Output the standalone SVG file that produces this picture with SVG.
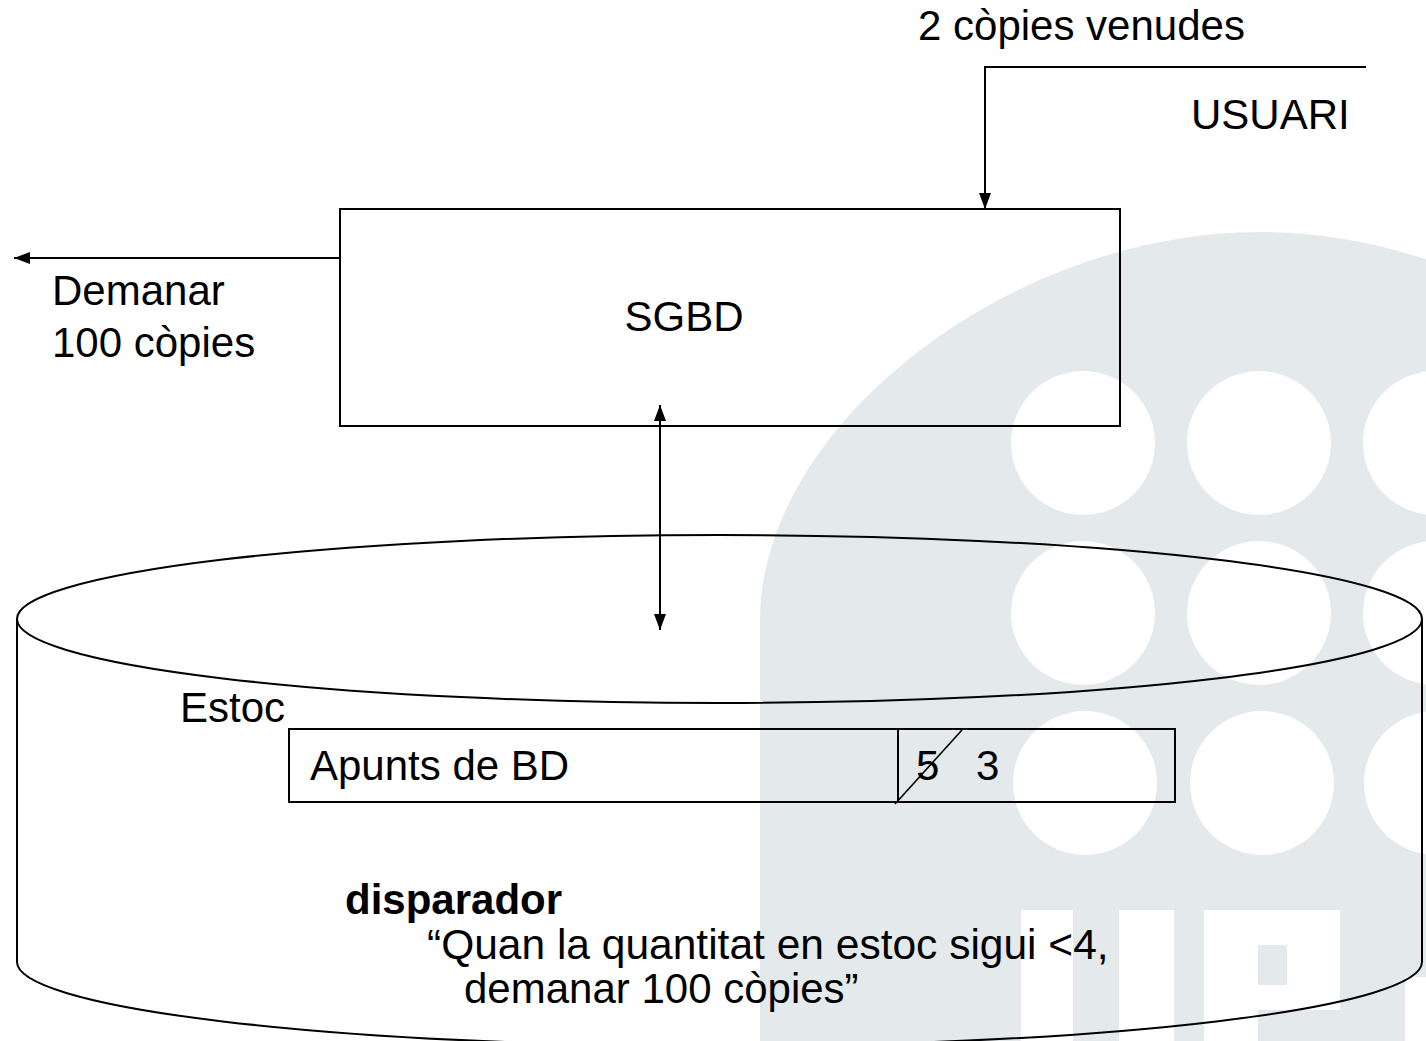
<svg xmlns="http://www.w3.org/2000/svg" width="1426" height="1041" viewBox="0 0 1426 1041">
  <style>
    .t { font-family: "Liberation Sans", Arial, sans-serif; font-size: 42px; fill: #000; }
    .b { font-weight: bold; }
    .s { fill: none; stroke: #000; stroke-width: 2; }
    .wm { fill: #e4e9eb; }
    .hole { fill: #fff; }
  </style>
  <defs>
    <marker id="arr" viewBox="0 0 16 12" refX="16" refY="6" markerWidth="16" markerHeight="12" markerUnits="userSpaceOnUse" orient="auto-start-reverse">
      <path d="M0,0 L16,6 L0,12 z" fill="#000"/>
    </marker>
  </defs>
  <rect width="1426" height="1041" fill="#fff"/>
  <!-- watermark -->
  <g id="watermark">
    <path class="wm" d="M760,1041 L760,620 C760,426 1010,232 1260,232 C1510,232 1760,426 1760,620 L1760,1041 Z"/>
    <circle class="hole" cx="1083" cy="443" r="72"/>
    <circle class="hole" cx="1259" cy="443" r="72"/>
    <circle class="hole" cx="1435" cy="443" r="72"/>
    <circle class="hole" cx="1083" cy="613" r="72"/>
    <circle class="hole" cx="1259" cy="613" r="72"/>
    <circle class="hole" cx="1435" cy="613" r="72"/>
    <circle class="hole" cx="1085" cy="783" r="72"/>
    <circle class="hole" cx="1262" cy="783" r="72"/>
    <circle class="hole" cx="1436" cy="783" r="72"/>
    <rect class="hole" x="1021" y="910" width="52" height="131"/>
    <rect class="hole" x="1119" y="910" width="55" height="131"/>
    <path class="hole" d="M1204,910 H1340 V1010 H1258 V1041 H1204 Z M1258,945 V985 H1287 V945 Z" fill-rule="evenodd"/>
    <rect class="hole" x="1405" y="977" width="21" height="64"/>
  </g>
  <!-- nodes -->
  <g id="usuari">
    <text class="t" x="918" y="40">2 còpies venudes</text>
    <text class="t" x="1191" y="129">USUARI</text>
  </g>
  <g id="sgbd">
    <rect class="s" x="340" y="209" width="780" height="217"/>
    <text class="t" x="684" y="331" text-anchor="middle">SGBD</text>
  </g>
  <g id="demanar">
    <text class="t" x="52" y="305">Demanar</text>
    <text class="t" x="52" y="357">100 còpies</text>
  </g>
  <g id="bd">
    <path class="s" d="M17,619 L17,962 A702.5,84 0 0 0 1422,962 L1422,619"/>
    <ellipse class="s" cx="719.5" cy="619" rx="702.5" ry="84"/>
    <text class="t" x="180" y="722">Estoc</text>
  </g>
  <g id="registre">
    <rect class="s" x="289" y="729" width="886" height="73"/>
    <line class="s" x1="898" y1="729" x2="898" y2="802"/>
    <text class="t" x="310" y="780">Apunts de BD</text>
    <text class="t" x="916" y="780">5</text>
    <text class="t" x="976" y="780">3</text>
    <line x1="895" y1="804" x2="962" y2="730" stroke="#000" stroke-width="1.6"/>
  </g>
  <g id="disparador">
    <text class="t b" x="345" y="914">disparador</text>
    <text class="t" x="427" y="959" style="font-size:42.5px">“Quan la quantitat en estoc sigui &lt;4,</text>
    <text class="t" x="464" y="1003">demanar 100 còpies”</text>
  </g>
  <!-- connectors -->
  <g id="connectors">
    <path class="s" d="M1366,67 H985 V209" marker-end="url(#arr)"/>
    <path class="s" d="M340,258 H14" marker-end="url(#arr)"/>
    <path class="s" d="M660,405 V630" marker-start="url(#arr)" marker-end="url(#arr)"/>
  </g>
</svg>
